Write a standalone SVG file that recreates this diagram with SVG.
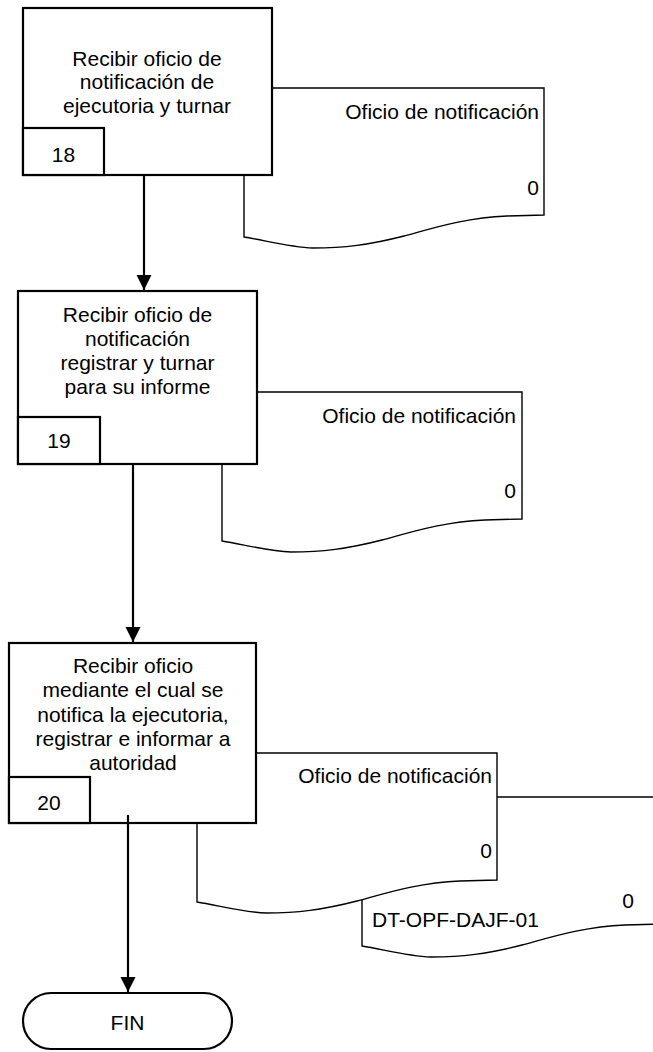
<svg xmlns="http://www.w3.org/2000/svg" width="653" height="1052" viewBox="0 0 653 1052">
<style>
.box{fill:#fff;stroke:#000;stroke-width:2.2}
.doc{fill:#fff;stroke:#000;stroke-width:1.4}
.t{font-family:"Liberation Sans",Arial,sans-serif;font-size:21px;fill:#000}
.c{text-anchor:middle}
.e{text-anchor:end}
.conn{stroke:#000;stroke-width:2.2;fill:none}
</style>
<defs>
<path id="docShape" d="M0,0 H300 V127 L263,128 C220,130 190,140 160,148 C125,157 100,160 69,160 C45,159 20,152 0,149 Z"/>
<marker id="arr" markerUnits="userSpaceOnUse" markerWidth="16" markerHeight="16" viewBox="0 0 16 16" refX="15" refY="8" orient="auto">
<path d="M0,0.5 L15,8 L0,15.5 Z" fill="#000"/>
</marker>
</defs>

<g id="doc4">
<use href="#docShape" class="doc" transform="translate(362,797)"/>
<text class="t" x="372" y="927">DT-OPF-DAJF-01</text>
<text class="t c" x="628" y="908">0</text>
</g>
<g id="doc3">
<use href="#docShape" class="doc" transform="translate(197,753)"/>
<text class="t e" x="492" y="783">Oficio de notificación</text>
<text class="t e" x="492" y="858">0</text>
</g>
<g id="doc2">
<use href="#docShape" class="doc" transform="translate(222,392)"/>
<text class="t e" x="516" y="423">Oficio de notificación</text>
<text class="t e" x="516" y="498">0</text>
</g>
<g id="doc1">
<use href="#docShape" class="doc" transform="translate(244,88)"/>
<text class="t e" x="539" y="119">Oficio de notificación</text>
<text class="t e" x="539" y="195">0</text>
</g>

<g id="node18">
<rect class="box" x="23" y="8" width="249" height="167"/>
<rect class="box" x="23" y="128" width="81" height="47"/>
<text class="t c" x="147" y="65.5">Recibir oficio de</text>
<text class="t c" x="147" y="89">notificación de</text>
<text class="t c" x="147" y="112.5">ejecutoria y turnar</text>
<text class="t c" x="63.5" y="162">18</text>
</g>
<g id="node19">
<rect class="box" x="18" y="291" width="239" height="173"/>
<rect class="box" x="18" y="417" width="82" height="47"/>
<text class="t c" x="137.5" y="322">Recibir oficio de</text>
<text class="t c" x="137.5" y="346">notificación</text>
<text class="t c" x="137.5" y="370">registrar y turnar</text>
<text class="t c" x="137.5" y="394">para su informe</text>
<text class="t c" x="59" y="447.5">19</text>
</g>
<g id="node20">
<rect class="box" x="9" y="643" width="247" height="180"/>
<rect class="box" x="9" y="777" width="81" height="46"/>
<text class="t c" x="133" y="673">Recibir oficio</text>
<text class="t c" x="133" y="697">mediante el cual se</text>
<text class="t c" x="133" y="722">notifica la ejecutoria,</text>
<text class="t c" x="133" y="746">registrar e informar a</text>
<text class="t c" x="133" y="770">autoridad</text>
<text class="t c" x="49" y="809.5">20</text>
</g>
<g id="fin">
<rect class="box" x="23" y="993" width="209" height="56" rx="28" ry="28"/>
<text class="t c" x="127.5" y="1030">FIN</text>
</g>

<g id="connectors">
<path class="conn" d="M144,175 V290" marker-end="url(#arr)"/>
<path class="conn" d="M133,464 V642" marker-end="url(#arr)"/>
<path class="conn" d="M128,815 V992" marker-end="url(#arr)"/>
</g>
</svg>
